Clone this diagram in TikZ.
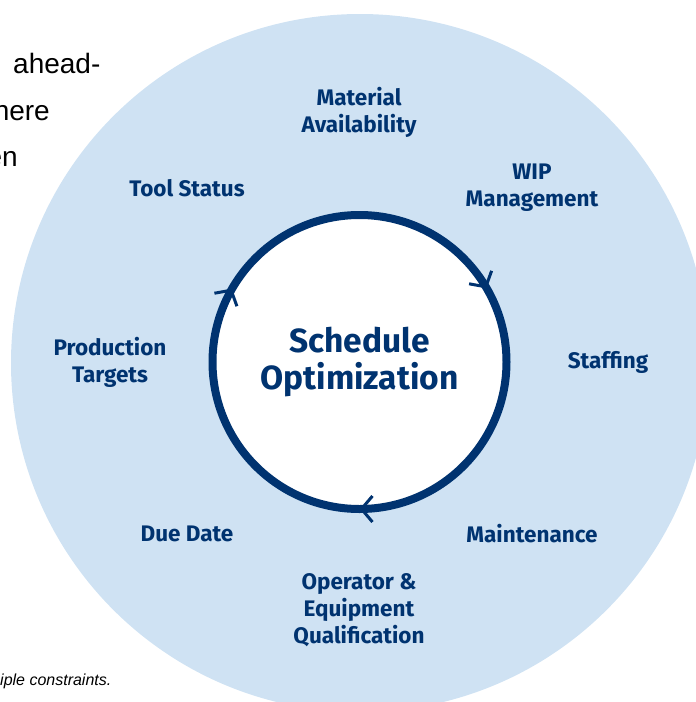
\documentclass[tikz,border=0pt]{standalone}
\usepackage{fontspec}
\setmainfont{Fira Sans}
\newfontfamily\bodyfont{Liberation Sans}
\usetikzlibrary{arrows.meta, decorations.markings}

\definecolor{ringblue}{HTML}{003370}
\definecolor{paleblue}{HTML}{CFE2F3}

\tikzset{
    factor/.style={text=ringblue, align=center, font=\bfseries\fontsize{22.5}{27}\selectfont},
    bodytext/.style={font=\bodyfont\fontsize{28}{34}\selectfont, inner sep=0pt},
    chev/.style={ringblue},
}

\begin{document}
\begin{tikzpicture}[x=1pt, y=-1pt]
    \useasboundingbox (0,0) rectangle (696,702);
    \clip (0,0) rectangle (696,702);

    % Running text of the page
    \node[bodytext, anchor=base west] (txta) at (13,73) {ahead-};
    \node[bodytext, anchor=base east] (txtb) at (50,120) {here};
    \node[bodytext, anchor=base east] (txtc) at (18,166) {en};
    \node[font=\bodyfont\itshape\fontsize{16}{19}\selectfont, inner sep=0pt, anchor=base west] (caption) at (0,685) {iple constraints.};

    % Outer disc
    \fill[paleblue] (360,363) circle[radius=349pt];

    % Hub with the cycle ring
    \node[circle, draw=ringblue, line width=8pt, fill=white, minimum size=294pt, inner sep=0pt,
          text=ringblue, align=center, font=\bfseries\fontsize{33.5}{37}\selectfont] (hub) at (359.5,362) {Schedule\\Optimization};

    % Arrow heads on the ring, clockwise
    \path[decoration={markings,
            mark=at position 0.0833 with {\arrowreversed[chev]{Straight Barb[length=11pt, width=26pt, line width=3pt]}},
            mark=at position 0.4167 with {\arrowreversed[chev]{Straight Barb[length=11pt, width=26pt, line width=3pt]}},
            mark=at position 0.75 with {\arrowreversed[chev]{Straight Barb[length=11pt, width=26pt, line width=3pt]}}},
          postaction={decorate}] (hub.center) circle[radius=147pt];

    % Factors around the ring
    \node[factor] (material) at (359,112) {Material\\Availability};
    \node[factor] (wip) at (532,188) {WIP\\Management};
    \node[factor] (tool) at (187,188) {Tool Status};
    \node[factor] (staff) at (608,362) {Staffing};
    \node[factor] (prod) at (110,362) {Production\\Targets};
    \node[factor] (due) at (187,534) {Due Date};
    \node[factor] (maint) at (532,534) {Maintenance};
    \node[factor] (oper) at (359,610) {Operator \&\\Equipment\\Qualification};
\end{tikzpicture}
\end{document}
